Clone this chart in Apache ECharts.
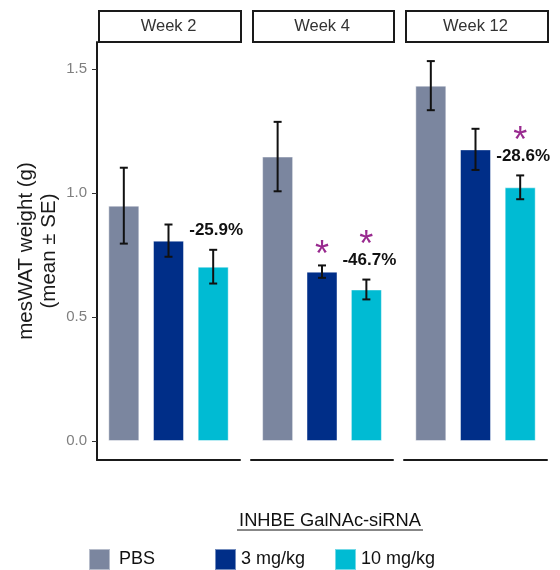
<!DOCTYPE html>
<html>
<head>
<meta charset="utf-8">
<script src="https://cdn.jsdelivr.net/npm/echarts@6/dist/echarts.min.js"></script>
<style>
  html, body { margin: 0; padding: 0; background: #fff; }
  #chart { width: 560px; height: 570px; }
</style>
</head>
<body>
<div id="chart"></div>
<script>
// mesWAT weight by treatment group, faceted by week
const weeks = ['Week 2', 'Week 4', 'Week 12'];
const groups = ['PBS', '3 mg/kg', '10 mg/kg'];
const pbsMean = [0.949, 1.147, 1.433];
const pbsSE = [0.153, 0.140, 0.099];
const mg3Mean = [0.808, 0.683, 1.176];
const mg3SE = [0.065, 0.025, 0.083];
const mg10Mean = [0.703, 0.611, 1.023];
const mg10SE = [0.068, 0.040, 0.048];
const changeLabels = ['-25.9%', '-46.7%', '-28.6%']; // 10 mg/kg vs PBS
const star3 = [false, true, false];
const star10 = [false, true, true];
const yTicks = [0, 0.5, 1.0, 1.5];
const yTitle = ['mesWAT weight (g)', '(mean \u00b1 SE)'];
const legendTitle = 'INHBE GalNAc-siRNA';

const colors = ['#7b869f', '#002e88', '#00bbd3'];
const starColor = '#992a8f';
const FONT = '"Liberation Sans", Arial, sans-serif';

const means = [pbsMean, mg3Mean, mg10Mean];
const ses = [pbsSE, mg3SE, mg10SE];

// facet panel placement
const panels = [
  { left: 97, width: 143 },
  { left: 251, width: 142 },
  { left: 404, width: 143 }
];
const PANEL_TOP = 42, PANEL_H = 418;
const Y_MIN = -0.0766, Y_MAX = 1.609;

const chart = echarts.init(document.getElementById('chart'), null, { renderer: 'canvas' });

const grid = panels.map(p => ({ left: p.left, width: p.width, top: PANEL_TOP, height: PANEL_H, containLabel: false }));

const xAxis = panels.map((p, i) => ({
  type: 'value', gridIndex: i, min: 0.4, max: 3.6,
  axisLine: { show: true, onZero: false, lineStyle: { color: '#1a1a1a', width: 2 } },
  axisTick: { show: false }, axisLabel: { show: false }, splitLine: { show: false }
}));

const yAxis = panels.map((p, i) => ({
  type: 'value', gridIndex: i, min: Y_MIN, max: Y_MAX,
  axisLine: { show: i === 0, onZero: false, lineStyle: { color: '#1a1a1a', width: 2 } },
  axisTick: { show: i === 0, length: 5, customValues: yTicks, lineStyle: { color: '#333', width: 1 } },
  axisLabel: {
    show: i === 0, customValues: yTicks, margin: 10,
    formatter: v => v.toFixed(1),
    color: '#7f7f7f', fontSize: 15, fontFamily: FONT
  },
  splitLine: { show: false }
}));

const series = [];

// bars
weeks.forEach((w, g) => {
  groups.forEach((name, k) => {
    series.push({
      type: 'bar', name: name, xAxisIndex: g, yAxisIndex: g,
      barWidth: 31, barGap: '-100%',
      itemStyle: { color: colors[k], borderColor: 'rgba(255,255,255,0.45)', borderWidth: 1 },
      data: [[k + 1, means[k][g]]],
      z: 2
    });
  });
});

// error bars (mean ± SE)
function renderErr(params, api) {
  const x = api.value(0), m = api.value(1), se = api.value(2);
  const top = api.coord([x, m + se]);
  const bot = api.coord([x, m - se]);
  const cap = 4;
  const st = { stroke: '#111', lineWidth: 2 };
  return {
    type: 'group', children: [
      { type: 'line', shape: { x1: top[0], y1: top[1], x2: bot[0], y2: bot[1] }, style: st },
      { type: 'line', shape: { x1: top[0] - cap, y1: top[1], x2: top[0] + cap, y2: top[1] }, style: st },
      { type: 'line', shape: { x1: bot[0] - cap, y1: bot[1], x2: bot[0] + cap, y2: bot[1] }, style: st }
    ]
  };
}
weeks.forEach((w, g) => {
  series.push({
    type: 'custom', xAxisIndex: g, yAxisIndex: g, renderItem: renderErr, z: 5,
    silent: true,
    data: groups.map((n, k) => [k + 1, means[k][g], ses[k][g]])
  });
});

// percentage change and significance marks, placed above the error bar tops
const noteText = {};
function renderNote(params, api) {
  const x = api.value(0), yRef = api.value(1), kind = api.value(2);
  const p = api.coord([x, yRef]);
  const text = noteText[params.seriesIndex][params.dataIndex];
  if (kind === 0) {
    return { type: 'text', x: p[0] + 3, y: p[1] - 19,
      style: { text: text, fill: '#111', font: 'bold 17px ' + FONT, textAlign: 'center', textVerticalAlign: 'middle' } };
  }
  const dy = kind === 1 ? -41 : -17;
  return { type: 'text', x: p[0], y: p[1] + dy + 8,
    style: { text: text, fill: starColor, font: '36px ' + FONT, textAlign: 'center', textVerticalAlign: 'middle' } };
}
weeks.forEach((w, g) => {
  const data = [], texts = [];
  if (changeLabels[g]) { data.push([3, mg10Mean[g] + mg10SE[g], 0]); texts.push(changeLabels[g]); }
  if (star10[g]) { data.push([3, mg10Mean[g] + mg10SE[g], 1]); texts.push('*'); }
  if (star3[g]) { data.push([2, mg3Mean[g] + mg3SE[g], 2]); texts.push('*'); }
  noteText[series.length] = texts;
  series.push({
    type: 'custom', xAxisIndex: g, yAxisIndex: g, renderItem: renderNote, z: 6,
    silent: true, clip: false, data: data
  });
});

// facet strips
const graphic = [];
panels.forEach((p, g) => {
  graphic.push({
    type: 'rect', left: p.left + 1, top: 10,
    shape: { width: p.width - 1, height: 31 },
    style: { fill: '#fff', stroke: '#1a1a1a', lineWidth: 2 }
  });
  graphic.push({
    type: 'text', x: p.left + p.width / 2, y: 26,
    style: { text: weeks[g], fill: '#333', font: '16.5px ' + FONT, textAlign: 'center', textVerticalAlign: 'middle' }
  });
});

// y-axis title, two lines
graphic.push({
  type: 'text', x: 26, y: 251, rotation: Math.PI / 2,
  style: { text: yTitle[0], fill: '#1a1a1a', font: '20.5px ' + FONT, textAlign: 'center', textVerticalAlign: 'middle' }
});
graphic.push({
  type: 'text', x: 49, y: 251, rotation: Math.PI / 2,
  style: { text: yTitle[1], fill: '#1a1a1a', font: '20.5px ' + FONT, textAlign: 'center', textVerticalAlign: 'middle' }
});

// legend heading with underline
graphic.push({
  type: 'text', x: 330, y: 521,
  style: { text: legendTitle, fill: '#111', font: '18.3px ' + FONT, textAlign: 'center', textVerticalAlign: 'middle' }
});
graphic.push({
  type: 'line', shape: { x1: 237, y1: 530, x2: 423, y2: 530 },
  style: { stroke: '#111', lineWidth: 1 }
});

const legendLeft = [88, 214, 334];
const legend = groups.map((name, k) => ({
  data: [name], left: legendLeft[k], top: 548, padding: 0,
  icon: 'rect', itemWidth: 21, itemHeight: 21, itemGap: 0,
  selectedMode: false,
  textStyle: { fontSize: 18, color: '#111', fontFamily: FONT, padding: [0, 0, 0, k === 0 ? 4 : 0] }
}));

chart.setOption({
  animation: false,
  backgroundColor: '#fff',
  color: colors,
  grid: grid,
  xAxis: xAxis,
  yAxis: yAxis,
  legend: legend,
  series: series,
  graphic: graphic
});
</script>
</body>
</html>
